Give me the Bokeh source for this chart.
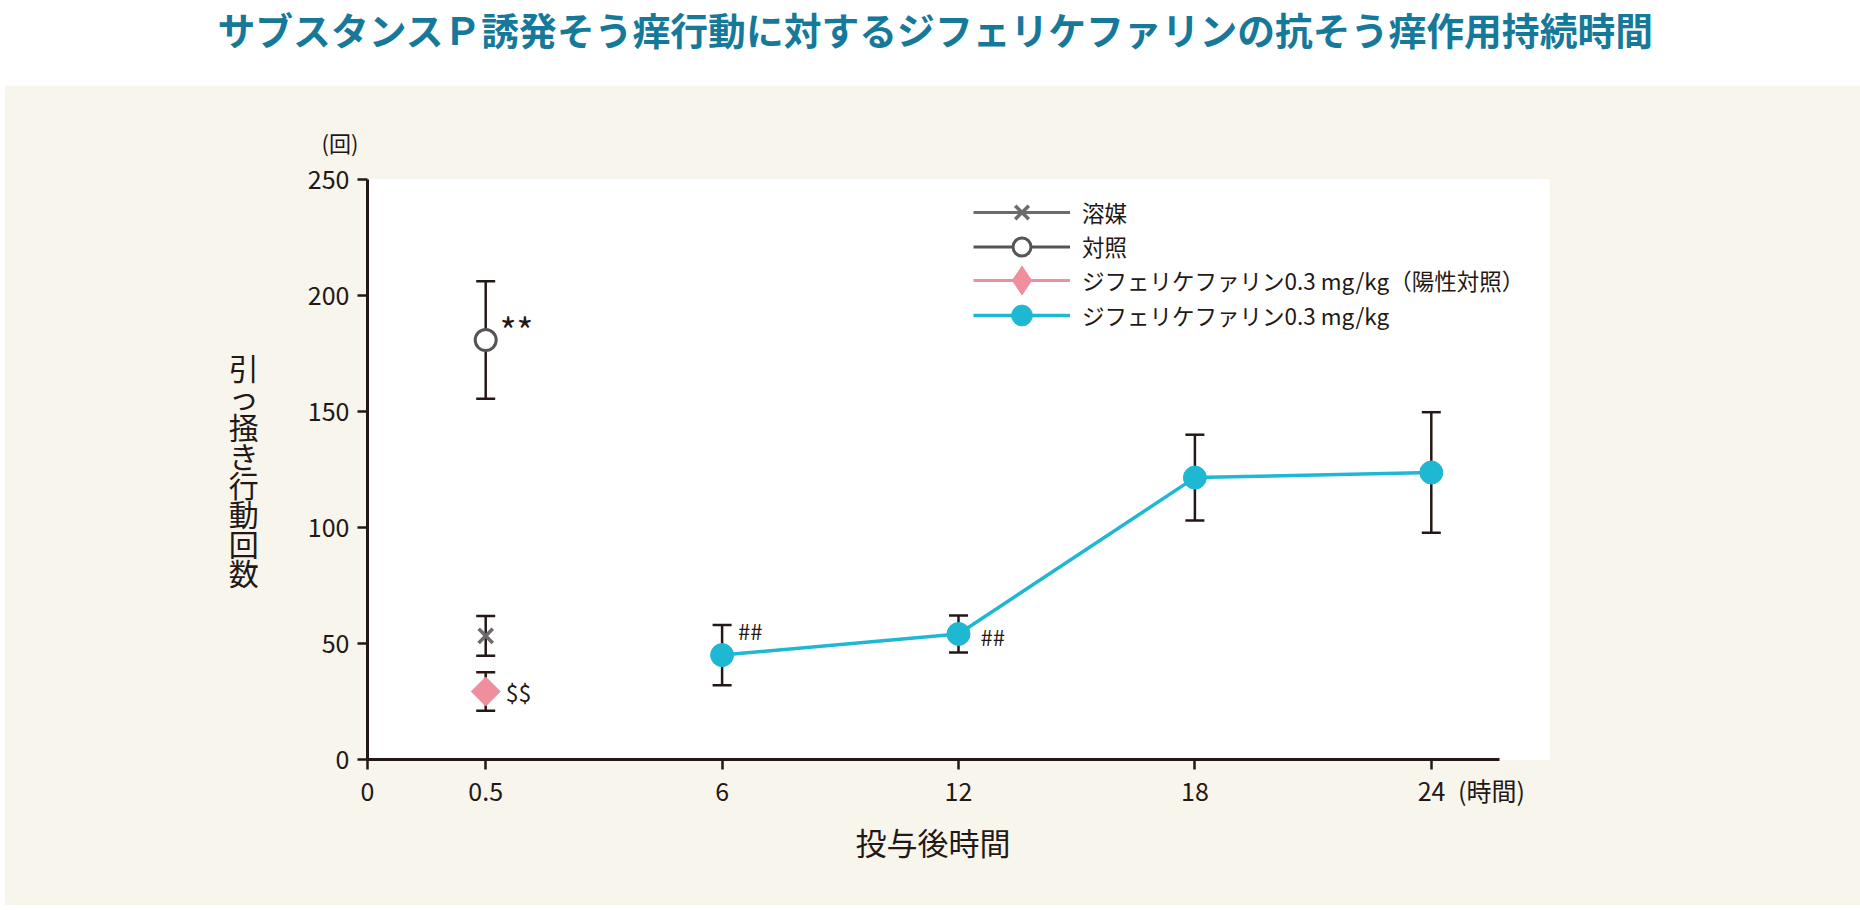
from bokeh.plotting import figure
from bokeh.models import (Range1d, Label, Legend, LegendItem, Whisker, TeeHead,
                          ColumnDataSource, FixedTicker, Title, Spacer)
from bokeh.layouts import column, row
from bokeh.embed import file_html
from bokeh.resources import INLINE
import math

# ---------------- data ----------------
title_text = "サブスタンスＰ誘発そう痒行動に対するジフェリケファリンの抗そう痒作用持続時間"
x_title = "投与後時間"
y_title = "引っ掻き行動回数"
y_unit = "(回)"
x_unit = "(時間)"

tick_labels = ["0", "0.5", "6", "12", "18", "24"]
tick_slots = [0.0, 0.5, 1.5, 2.5, 3.5, 4.5]
y_ticks = [0, 50, 100, 150, 200, 250]

vehicle_label = "溶媒"
vehicle_time = ["0.5"]
vehicle_mean = [53.3]
vehicle_sem = [8.6]

control_label = "対照"
control_time = ["0.5"]
control_mean = [180.8]
control_sem = [25.3]

positive_label = "ジフェリケファリン0.3 mg/kg（陽性対照）"
positive_time = ["0.5"]
positive_mean = [29.3]
positive_sem = [8.3]

dife_label = "ジフェリケファリン0.3 mg/kg"
dife_time = ["6", "12", "18", "24"]
dife_mean = [45.0, 54.1, 121.5, 123.7]
dife_sem = [13.0, 8.0, 18.5, 26.0]

control_sig = ["**"]
positive_sig = ["$$"]
dife_sig = ["##", "##", "", ""]

# ---------------- style ----------------
FONT = "Noto Sans CJK JP"
INK = "#231815"
BEIGE = "#f8f5ed"
CYAN = "#1fb8d3"
PINK = "#ef8f9d"
GREY_X = "#6b6b6b"
GREY_O = "#555555"
TEAL = "#17799a"

LEFT_GAP = 4
W = 1860 - LEFT_GAP
BL = 367 - LEFT_GAP          # frame borders shared by both figures
BR = W - BL - 1182

slot = dict(zip(tick_labels, tick_slots))


def make_src(times, mean, sem):
    return ColumnDataSource(dict(
        x=[slot[t] for t in times],
        y=mean,
        upper=[m + s for m, s in zip(mean, sem)],
        lower=[m - s for m, s in zip(mean, sem)],
    ))


vsrc = make_src(vehicle_time, vehicle_mean, vehicle_sem)
csrc = make_src(control_time, control_mean, control_sem)
psrc = make_src(positive_time, positive_mean, positive_sem)
dsrc = make_src(dife_time, dife_mean, dife_sem)

# ---------------- title figure ----------------
tf = figure(width=W, height=85, x_range=Range1d(0, 1), y_range=Range1d(0, 1),
            output_backend="svg", toolbar_location=None, min_border=0,
            min_border_left=BL, min_border_right=BR,
            outline_line_color=None, x_axis_type=None, y_axis_type=None,
            background_fill_color="white", border_fill_color="white")
tf.grid.visible = False
tf.title = None
tf.add_layout(Title(text=title_text, align="left", offset=-150, vertical_align="top",
                    standoff=0, text_font=FONT, text_font_size="37.8px",
                    text_font_style="bold", text_color=TEAL), "above")

# ---------------- main figure ----------------
p = figure(width=W, height=820, x_range=Range1d(0, 5), y_range=Range1d(0, 250),
           output_backend="svg", toolbar_location=None,
           min_border_left=BL, min_border_right=BR, min_border_top=94,
           min_border_bottom=146, background_fill_color="white",
           border_fill_color=BEIGE, outline_line_color=None)
p.grid.visible = False

for ax in (p.xaxis, p.yaxis):
    ax.axis_line_color = INK
    ax.axis_line_width = 3
    ax.major_tick_line_color = INK
    ax.major_tick_line_width = 2.5
    ax.major_tick_in = 0
    ax.major_tick_out = 10
    ax.minor_tick_line_color = None
    ax.major_label_text_font = FONT
    ax.major_label_text_font_size = "25px"
    ax.major_label_text_color = INK

# x ticks: last label carries the unit, padded on the left so "24" stays centred
x_overrides = {s: l for s, l in zip(tick_slots, tick_labels)}
x_overrides[tick_slots[-1]] = "\u3000\u3000\u3000\u2009" + tick_labels[-1] + "\u2002" + x_unit
p.xaxis.ticker = FixedTicker(ticks=tick_slots)
p.xaxis.major_label_overrides = x_overrides
p.xaxis.bounds = (0, 4.79)
p.xaxis.major_label_standoff = 2

p.yaxis.ticker = FixedTicker(ticks=y_ticks)
p.yaxis.bounds = (0, 250)
p.yaxis.major_label_standoff = 8
p.yaxis.axis_label = "\n".join(y_title)
p.yaxis.axis_label_orientation = "horizontal"
p.yaxis.axis_label_text_font = FONT
p.yaxis.axis_label_text_font_size = "30px"
p.yaxis.axis_label_text_font_style = "normal"
p.yaxis.axis_label_text_color = INK
p.yaxis.axis_label_text_line_height = 0.666
p.yaxis.axis_label_standoff = 46

# unit of y and x-axis title as side-panel titles (not clipped by the frame)
p.add_layout(Title(text=y_unit, align="left", offset=-46, vertical_align="bottom",
                   standoff=44, text_font=FONT, text_font_size="22px",
                   text_font_style="normal", text_color=INK), "above")
p.add_layout(Title(text=x_title, align="left", offset=488, vertical_align="top",
                   standoff=16, text_font=FONT, text_font_size="31px",
                   text_font_style="normal", text_color=INK), "below")

# error bars
for s in (vsrc, csrc, psrc, dsrc):
    p.add_layout(Whisker(source=s, base="x", upper="upper", lower="lower",
                         dimension="height", line_color=INK, line_width=2.5,
                         level="underlay",
                         upper_head=TeeHead(size=19, line_color=INK, line_width=2.5),
                         lower_head=TeeHead(size=19, line_color=INK, line_width=2.5)))

# series
v_line = p.line("x", "y", source=vsrc, line_color=GREY_X, line_width=3)
v_pt = p.scatter("x", "y", source=vsrc, marker="x", size=20, line_color=GREY_X,
                 line_width=3.5)

c_line = p.line("x", "y", source=csrc, line_color=GREY_O, line_width=3)
c_pt = p.scatter("x", "y", source=csrc, marker="circle", size=21, line_color=GREY_O,
                 line_width=3, fill_color="white")

p_line = p.line("x", "y", source=psrc, line_color=PINK, line_width=3)
p_pt = p.scatter("x", "y", source=psrc, marker="square", size=20.5, angle=math.pi / 4,
                 line_color=PINK, line_width=1, fill_color=PINK)
p_leg = p.scatter("x", "y", source=psrc, marker="diamond", size=28, line_color=PINK,
                  line_width=1, fill_color=PINK, visible=False)

d_line = p.line("x", "y", source=dsrc, line_color=CYAN, line_width=3.5)
d_pt = p.scatter("x", "y", source=dsrc, marker="circle", size=23, line_color=CYAN,
                 line_width=1, fill_color=CYAN)


# significance marks
def sig(x, y, text, dx, dy, size):
    if text:
        p.add_layout(Label(x=x, y=y, text=text, x_offset=dx, y_offset=dy,
                           text_align="left", text_baseline="middle",
                           text_font=FONT, text_font_size=size, text_color=INK))


sig(slot[control_time[0]], control_mean[0], control_sig[0], 14, 11, "36px")
sig(slot[positive_time[0]], positive_mean[0], positive_sig[0], 20, 0, "23px")
for t, m, s, dx, dy in zip(dife_time, dife_mean, dife_sig, [16, 22, 0, 0], [25, -2, 0, 0]):
    sig(slot[t], m, s, dx, dy, "22px")


# legends (one per row so each marker keeps its own size)
def add_legend(label, renderers, gh, center_from_bottom):
    leg = Legend(items=[LegendItem(label=label, renderers=renderers)],
                 location=(606, center_from_bottom - gh / 2),
                 glyph_width=97, glyph_height=int(gh), label_standoff=12,
                 padding=0, margin=0, spacing=0, background_fill_alpha=0,
                 border_line_color=None, label_text_font=FONT,
                 label_text_font_size="22.5px", label_text_color=INK)
    p.add_layout(leg)


add_legend(vehicle_label, [v_line, v_pt], 48, 547)
add_legend(control_label, [c_line, c_pt], 45, 513)
add_legend(positive_label, [p_line, p_leg], 72, 479)
add_legend(dife_label, [d_line, d_pt], 52, 444)

layout = row(Spacer(width=LEFT_GAP), column(tf, p, spacing=0), spacing=0)
open("out.html", "w").write(file_html(layout, INLINE))
